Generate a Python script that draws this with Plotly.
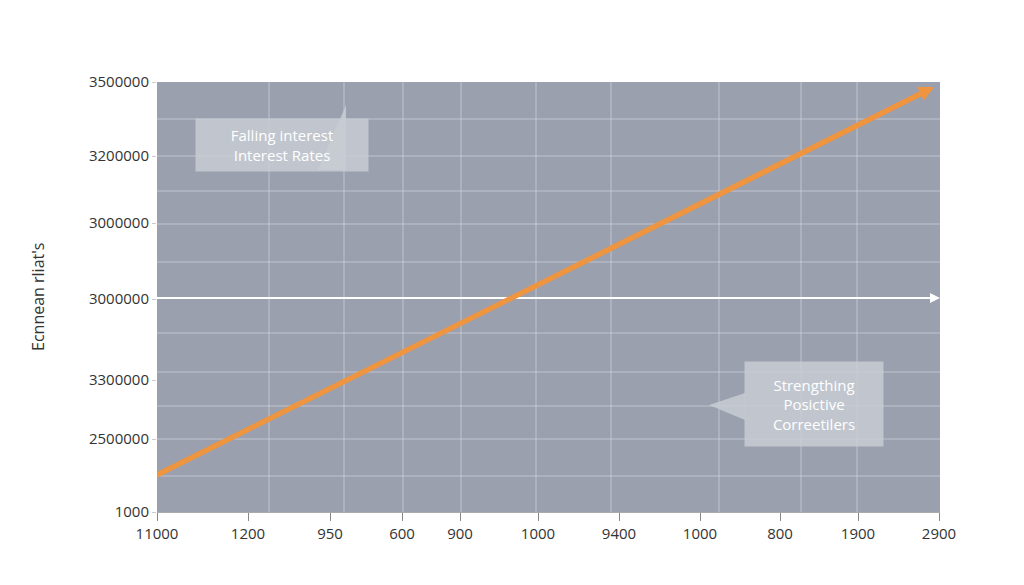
import plotly.graph_objects as go

# Data (in the chart's own coordinate units)
x_tick_pos = [157, 248, 330, 402, 460, 538, 619, 700, 780, 858, 939]
x_tick_labels = ["11000", "1200", "950", "600", "900", "1000", "9400", "1000", "800", "1900", "2900"]
y_tick_pos = [503, 429, 362, 286, 205, 146, 73]
y_tick_labels = ["3500000", "3200000", "3000000", "3000000", "3300000", "2500000", "1000"]
x_grid = [269, 344, 403, 461, 536, 611, 719, 801, 857]
y_grid = [466, 429, 394, 361, 323, 252, 213, 179, 146, 109]
trend_x = [157, 928]
trend_y = [110, 495]
zero_y = 287

fig = go.Figure()
shapes = []
for gx in x_grid:
    shapes.append(dict(type="line", x0=gx, x1=gx, y0=73, y1=503, line=dict(color="rgba(225,228,235,0.55)", width=1), layer="below"))
for gy in y_grid:
    shapes.append(dict(type="line", x0=157, x1=940, y0=gy, y1=gy, line=dict(color="rgba(225,228,235,0.55)", width=1), layer="below"))
# callout pointers
shapes.append(dict(type="path", path="M 318,415 L 346,480 L 346,415 Z", fillcolor="rgba(200,204,212,0.85)", line=dict(width=0)))
shapes.append(dict(type="path", path="M 745,192 L 709,180 L 745,165 Z", fillcolor="rgba(200,204,212,0.85)", line=dict(width=0)))
fig.update_layout(shapes=shapes)

fig.add_trace(go.Scatter(x=[157, 934], y=[zero_y, zero_y], mode="lines", line=dict(color="white", width=2), hoverinfo="skip"))
fig.add_trace(go.Scatter(x=trend_x, y=trend_y, mode="lines", line=dict(color="#f0953f", width=5), hoverinfo="skip"))

ann = [
    dict(x=940, y=zero_y, ax=925, ay=zero_y, axref="x", ayref="y", xref="x", yref="y", showarrow=True, arrowhead=2, arrowsize=1, arrowwidth=2, arrowcolor="white", text=""),
    dict(x=934, y=498, ax=trend_x[0], ay=trend_y[0], axref="x", ayref="y", xref="x", yref="y", showarrow=True, arrowhead=2, arrowsize=0.6, arrowwidth=5, arrowcolor="#f0953f", text=""),
    dict(x=282, y=440, xref="x", yref="y", showarrow=False, text="Falling interest<br>Interest Rates", font=dict(family="Open Sans", size=15, color="white"), bgcolor="rgba(200,204,212,0.85)", borderpad=6, width=160, align="center"),
    dict(x=814, y=181, xref="x", yref="y", showarrow=False, text="Strengthing<br>Posictive<br>Correetilers", font=dict(family="Open Sans", size=15, color="white"), bgcolor="rgba(200,204,212,0.85)", borderpad=6, width=126, height=72, align="center"),
    dict(x=-0.152, y=0.5, xref="paper", yref="paper", xanchor="center", showarrow=False, text="Ecnnean rliat's", textangle=-90, font=dict(family="Open Sans", size=16, color="#333")),
]
fig.update_layout(annotations=ann)

fig.update_layout(
    width=1024, height=585,
    margin=dict(l=149, r=92, t=74, b=81),
    paper_bgcolor="white", plot_bgcolor="#9aa0ae",
    showlegend=False,
    xaxis=dict(range=[157, 940], tickvals=x_tick_pos, ticktext=x_tick_labels, showgrid=False, zeroline=False,
               ticks="outside", ticklen=8, tickcolor="#888", showline=True, linecolor="#aaa",
               tickfont=dict(family="Open Sans", size=15, color="#333")),
    yaxis=dict(range=[73, 503], tickvals=y_tick_pos, ticktext=y_tick_labels, showgrid=False, zeroline=False,
               ticks="outside", ticklen=4, tickcolor="#ccc",
               tickfont=dict(family="Open Sans", size=15, color="#333")),
)
fig.write_html("out.html")
